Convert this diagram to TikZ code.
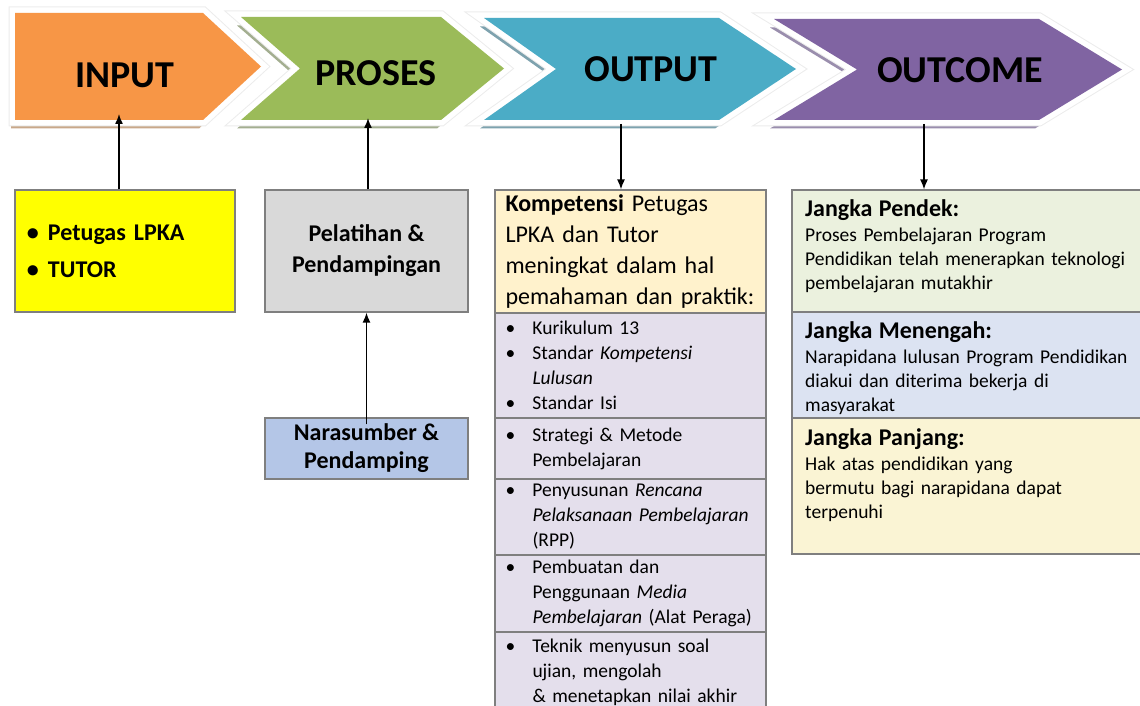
\documentclass[tikz,border=0pt]{standalone}
\usepackage{fontspec}
\setmainfont{Carlito}
\usetikzlibrary{arrows.meta}
\definecolor{inorange}{HTML}{F79646}
\definecolor{inorangesh}{HTML}{C8A88A}
\definecolor{prosgreen}{HTML}{9BBB59}
\definecolor{prosgreensh}{HTML}{A3AE90}
\definecolor{outblue}{HTML}{4BACC6}
\definecolor{outbluesh}{HTML}{7EA2AE}
\definecolor{outpurple}{HTML}{8064A2}
\definecolor{outpurplesh}{HTML}{9A8EAD}
\definecolor{boxyellow}{HTML}{FFFF00}
\definecolor{boxgray}{HTML}{D9D9D9}
\definecolor{boxblue}{HTML}{B4C6E7}
\definecolor{cellcream}{HTML}{FFF2CC}
\definecolor{celllilac}{HTML}{E4DFEC}
\definecolor{cellgreen}{HTML}{EBF1DE}
\definecolor{cellblue}{HTML}{DCE3F2}
\definecolor{cellsand}{HTML}{FAF4D4}
\definecolor{rimgray}{HTML}{7F7F7F}
\tikzstyle{chevglow}=[draw=gray!15,line width=13pt,line join=miter]
\tikzstyle{chevrim}=[draw=white,line width=11pt,line join=miter]
\tikzstyle{chevlabel}=[inner sep=0pt,font=\fontsize{38}{40}\selectfont\bfseries]
\tikzstyle{box}=[draw=rimgray,line width=1.2pt,inner sep=0pt]
\tikzstyle{cell}=[box,minimum width=271pt,text width=250pt,inner xsep=10.5pt,align=left,font=\fontsize{19.5}{25}\selectfont]
\tikzstyle{ocell}=[box,minimum width=354pt]
\tikzstyle{otext}=[anchor=north west,inner sep=0pt,text width=330pt,align=left,font=\fontsize{19.5}{24}\selectfont]
\tikzstyle{arr}=[draw=black,line width=1.4pt,-{Latex[length=10pt,width=8pt]}]
% chevron outline: left, notch, corner, tip, top
\newcommand{\chevshape}[5]{(#1,#5) -- (#3,#5) -- (#4,{(#5+120)/2}) -- (#3,120) -- (#1,120) -- (#2,{(#5+120)/2}) -- cycle}
\newcommand{\chevron}[7]{%
  \fill[#7,shift={(-4,8.5)}] \chevshape{#1}{#2}{#3}{#4}{#5};
  \path[chevglow] \chevshape{#1}{#2}{#3}{#4}{#5};
  \path[chevrim] \chevshape{#1}{#2}{#3}{#4}{#5};
  \fill[#6] \chevshape{#1}{#2}{#3}{#4}{#5};}
\newcommand{\lbul}{\makebox[27pt][l]{\textbullet}}
\newcommand{\lind}{\hspace*{27pt}}

\begin{document}
\begin{tikzpicture}[x=1pt,y=-1pt]
	\useasboundingbox (0,0) rectangle (1140,706);
	% header
	\chevron{15}{15}{203}{261}{13}{inorange}{inorangesh}
	\chevron{241}{300}{441}{504}{17}{prosgreen}{prosgreensh}
	\chevron{484}{556}{719}{796}{18}{outblue}{outbluesh}
	\chevron{774}{857}{1039}{1122}{19}{outpurple}{outpurplesh}
	\node[chevlabel] (input) at (125,75) {INPUT};
	\node[chevlabel] (proses) at (376,73) {PROSES};
	\node[chevlabel] (output) at (651,69) {OUTPUT};
	\node[chevlabel] (outcome) at (960,70) {OUTCOME};
	\coordinate (input-foot) at (119,114);
	\coordinate (proses-foot) at (368,118);
	\coordinate (output-foot) at (621,124);
	\coordinate (outcome-foot) at (924,124);

	% input and proses
	\node[box,fill=boxyellow,minimum width=220pt,minimum height=122pt,text width=196pt,inner xsep=12pt,align=left,font=\fontsize{24}{37}\selectfont\bfseries] (petugas) at (125,251)
		{\makebox[21pt][l]{\textbullet}Petugas LPKA\\ \makebox[21pt][l]{\textbullet}TUTOR};
	\node[box,fill=boxgray,minimum width=203pt,minimum height=122pt,align=center,font=\fontsize{24}{31}\selectfont\bfseries] (latih) at (366.5,251)
		{Pelatihan \&\\ Pendampingan};
	\node[box,fill=boxblue,minimum width=203pt,minimum height=61pt,align=center,font=\fontsize{24}{28}\selectfont\bfseries] (nara) at (366.5,448.5)
		{Narasumber \&\\ Pendamping};

	% output column
	\node[cell,fill=cellcream,minimum height=123pt,font=\fontsize{24}{31}\selectfont] (kompetensi) at (630.5,251.5)
		{\textbf{Kompetensi} Petugas\\ LPKA dan Tutor\\ meningkat dalam hal\\ \mbox{pemahaman dan praktik:}};
	\node[cell,fill=celllilac,minimum height=105pt] (standar) at (630.5,365.5)
		{\lbul Kurikulum 13\\ \lbul Standar \textit{Kompetensi}\\ \lind\textit{Lulusan}\\ \lbul Standar Isi};
	\node[cell,fill=celllilac,minimum height=61pt] (strategi) at (630.5,448.5)
		{\lbul Strategi \& Metode\\ \lind Pembelajaran};
	\node[cell,fill=celllilac,minimum height=76pt] (rpp) at (630.5,517)
		{\lbul Penyusunan \textit{Rencana}\\ \lind\mbox{\textit{Pelaksanaan Pembelajaran}}\\ \lind(RPP)};
	\node[cell,fill=celllilac,minimum height=77pt] (media) at (630.5,593.5)
		{\lbul Pembuatan dan\\ \lind Penggunaan \textit{Media}\\ \lind\mbox{\textit{Pembelajaran} (Alat Peraga)}};
	\node[cell,fill=celllilac,minimum height=80pt] (nilai) at (630.5,672)
		{\lbul Teknik menyusun soal\\ \lind ujian, mengolah\\ \lind\mbox{\& menetapkan nilai akhir}};

	% outcome column
	\node[ocell,fill=cellgreen,minimum height=122pt] (pendek) at (969,251) {};
	\node[ocell,fill=cellblue,minimum height=106pt] (menengah) at (969,365) {};
	\node[ocell,fill=cellsand,minimum height=136pt] (panjang) at (969,486) {};
	\node[otext] (pendek-txt) at (805,199)
		{{\fontsize{24}{24}\selectfont\bfseries Jangka Pendek:}\\[1.5pt]
		Proses Pembelajaran Program\\ Pendidikan telah menerapkan teknologi\\ pembelajaran mutakhir};
	\node[otext] (menengah-txt) at (805,321)
		{{\fontsize{24}{24}\selectfont\bfseries Jangka Menengah:}\\[1.5pt]
		Narapidana lulusan Program Pendidikan\\ diakui dan diterima bekerja di\\ masyarakat};
	\node[otext] (panjang-txt) at (805,428)
		{{\fontsize{24}{24}\selectfont\bfseries Jangka Panjang:}\\[1.5pt]
		Hak atas pendidikan yang\\ bermutu bagi narapidana dapat\\ terpenuhi};

	% connectors
	\draw[arr] (petugas.north -| input-foot) -- (input-foot);
	\draw[arr] (latih.north -| proses-foot) -- (proses-foot);
	\draw[arr] ([yshift=-7pt]nara.north) -- (latih.south);
	\draw[arr] (output-foot) -- (kompetensi.north -| output-foot);
	\draw[arr] (outcome-foot) -- (pendek.north -| outcome-foot);
\end{tikzpicture}
\end{document}
